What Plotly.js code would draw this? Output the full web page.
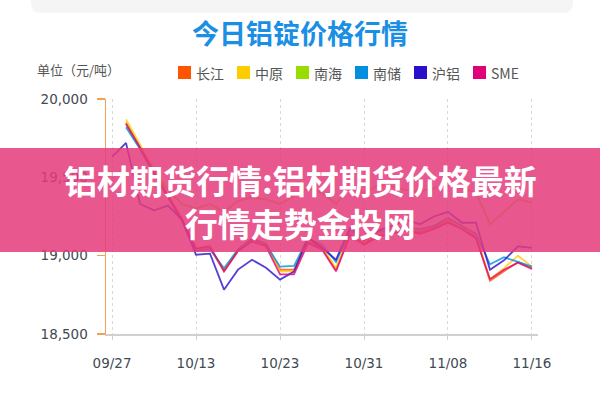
<!DOCTYPE html>
<html>
<head>
<meta charset="utf-8">
<script src="https://cdn.plot.ly/plotly-3.0.1.min.js"></script>
<style>
html,body{margin:0;padding:0;background:#fff;}
#chart{width:600px;height:400px;}
</style>
</head>
<body>
<div id="chart"></div>
<script>
// ---- data ----
const dates = ['09/27','09/28','09/29','10/10','10/11','10/12','10/13',
  '10/16','10/17','10/18','10/19','10/20','10/23',
  '10/24','10/25','10/26','10/27','10/30','10/31',
  '11/01','11/02','11/03','11/06','11/07','11/08',
  '11/09','11/10','11/13','11/14','11/15','11/16'];
const tickDates = ['09/27','10/13','10/23','10/31','11/08','11/16'];
const seriesNames = ['长江','中原','南海','南储','沪铝','SME'];
const changjiang = [null,19850,19690,19530,19380,19230,19040,19050,18900,19030,19100,19080,18910,18910,19090,19050,18910,19140,19080,19130,19150,19170,19150,19180,19220,19180,19120,18840,18900,18960,18920];
const zhongyuan  = [null,19870,19710,19545,19390,19240,19040,19050,18910,19040,19110,19080,18900,18900,19100,19060,18920,19150,19090,19140,19160,19170,19160,19190,19230,19180,19130,18850,18920,19000,18930];
const nanhai     = [null,19840,19690,19540,19420,19330,19300,19330,19280,19350,19370,19360,19330,19380,19430,19400,19330,19440,19400,19450,19440,19420,19410,19430,19450,19430,19400,19200,19280,19360,19340];
const nanchu     = [null,19820,19680,19520,19370,19220,19030,19040,18920,19040,19110,19070,18930,18935,19110,19070,18960,19160,19100,19150,19170,19180,19170,19190,19240,19190,19140,18945,18990,18960,18930];
const hulv       = [19630,19720,19330,19290,19320,19230,19006,19013,18783,18911,18974,18923,18847,18898,19115,19051,18974,19180,19100,19160,19190,19230,19200,19250,19280,19210,19210,18910,18970,19060,19050];
const sme        = [null,19840,19690,19530,19380,19230,19045,19060,18900,19030,19090,19060,18880,18880,19080,19040,18900,19130,19070,19120,19140,19160,19140,19170,19210,19170,19110,18850,18910,18955,18915];
const seriesValues = [changjiang, zhongyuan, nanhai, nanchu, hulv, sme];

// ---- styles ----
const colors = ['#FF5500','#FFCC00','#99DD00','#0090DD','#2A10CC','#E0007A'];
const L = 106, R = 538, T = 99, B = 334;
const px2x = p => (p - L) / (R - L);
const px2y = p => (B - p) / (B - T);

const traces = seriesNames.map((n, k) => ({
  type: 'scatter', mode: 'lines', name: n,
  x: dates, y: seriesValues[k],
  line: {color: colors[k], width: 1.8},
  opacity: 0.8, showlegend: false, connectgaps: false,
  hoverinfo: 'x+y+name'
}));

const shapes = [];
const annotations = [];

// top card
(function(){
  const x0 = px2x(31), x1 = px2x(573), yb = px2y(13), yt = px2y(-5);
  const rx = 10/(R-L), ry = 10/(B-T);
  shapes.push({type:'path', xref:'paper', yref:'paper', layer:'below',
    path:`M ${x0},${yt} L ${x0},${yb+ry} Q ${x0},${yb} ${x0+rx},${yb} L ${x1-rx},${yb} Q ${x1},${yb} ${x1},${yb+ry} L ${x1},${yt} Z`,
    fillcolor:'#f5f5f5', line:{width:0}});
})();

// custom legend
seriesNames.forEach((n, k) => {
  const sx = 178 + 59*k;
  shapes.push({type:'rect', xref:'paper', yref:'paper',
    x0:px2x(sx), x1:px2x(sx+13), y0:px2y(79), y1:px2y(66),
    fillcolor:colors[k], line:{width:0}});
  annotations.push({xref:'paper', yref:'paper', x:px2x(sx+16), y:px2y(72.5),
    xanchor:'left', yanchor:'middle', showarrow:false, text:n,
    font:{family:'Noto Sans CJK SC', size:14, color:'#555'}});
});

// unit label
annotations.push({xref:'paper', yref:'paper', x:px2x(35), y:px2y(70),
  xanchor:'left', yanchor:'middle', showarrow:false, text:'单位（元/吨）',
  font:{family:'Noto Sans CJK SC', size:13, color:'#555'}});

// banner overlay
shapes.push({type:'rect', xref:'paper', yref:'paper', layer:'above',
  x0:px2x(-5), x1:px2x(605), y0:px2y(252), y1:px2y(148),
  fillcolor:'rgba(229,58,123,0.85)', line:{width:0}});
annotations.push({xref:'paper', yref:'paper', x:px2x(300), y:px2y(201.5),
  xanchor:'center', yanchor:'middle', showarrow:false, align:'center',
  text:'<b>铝材期货行情:铝材期货价格最新</b><br><b>行情走势金投网</b>',
  font:{family:'Noto Sans CJK SC', size:33, color:'#ffffff'}});

const layout = {
  width:600, height:400,
  margin:{l:L, r:600-R, t:T, b:400-B, pad:0},
  paper_bgcolor:'#ffffff', plot_bgcolor:'#ffffff',
  showlegend:false,
  title:{text:'<b>今日铝锭价格行情</b>', x:0.5, xref:'container', xanchor:'center',
    y:1-35/400, yref:'container', yanchor:'middle',
    font:{family:'Noto Sans CJK SC', size:27, color:'#1a8fe3'}},
  xaxis:{type:'category', range:[-0.43, 30.43], tickmode:'array', tickvals:tickDates, ticktext:tickDates,
    showgrid:true, gridcolor:'#d8d8d8', griddash:'3px,3px', gridwidth:1,
    showline:true, linecolor:'#d0d0d0', linewidth:1.5,
    ticks:'outside', ticklen:4, tickcolor:'#d0d0d0',
    ticklabelstandoff:12, automargin:false, zeroline:false,
    tickfont:{family:'DejaVu Sans', size:13.5, color:'#3f4a52'}},
  yaxis:{range:[18500,20000], tickmode:'array', tickvals:[18500,19000,19500,20000],
    tickformat:',d', showgrid:false, zeroline:false,
    showline:true, linecolor:'#F3A054', linewidth:1.5,
    ticks:'outside', ticklen:8, tickcolor:'#F3A054', tickwidth:1.5,
    ticklabelstandoff:6, automargin:false,
    tickfont:{family:'DejaVu Sans', size:13.5, color:'#3f4a52'}},
  shapes:shapes, annotations:annotations
};

Plotly.newPlot('chart', traces, layout, {displayModeBar:false, staticPlot:true});
</script>
</body>
</html>
